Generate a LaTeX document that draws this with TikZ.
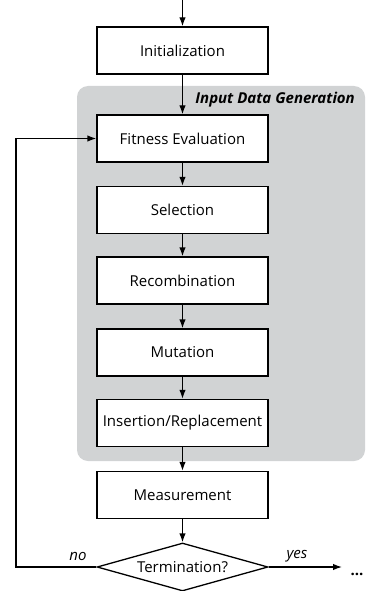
\documentclass[tikz,border=0pt]{standalone}
\usepackage{fontspec}
\setmainfont{Open Sans}
\usetikzlibrary{shapes.geometric,arrows.meta}
\definecolor{regiongray}{RGB}{209,211,212}
\begin{document}
\begin{tikzpicture}[x=1pt,y=-1pt,>={Latex[length=9pt,width=6.5pt]},font=\fontsize{15}{18}\selectfont]
	\tikzstyle{stepbox}=[rectangle,draw=black,line width=1.3pt,fill=white,minimum width=171pt,minimum height=47pt,inner sep=0pt]
	\tikzstyle{decision}=[diamond,draw=black,line width=1.3pt,fill=white,minimum width=171pt,minimum height=48pt,aspect=3.56,inner sep=0pt]
	\tikzstyle{edge}=[draw, line width=1.3pt, ->]
	\tikzstyle{lbl}=[font=\fontsize{15}{18}\selectfont\itshape,inner sep=0pt]
	\useasboundingbox (0,0) rectangle (367,591);
	% shaded group
	\fill[regiongray,rounded corners=11pt] (77,86) rectangle (365,461);
	\node [font=\fontsize{15}{18}\selectfont\bfseries\itshape,anchor=east,inner sep=0pt] (grouplabel) at (355,100) {Input Data Generation};
	% steps
	\coordinate (start) at (182.5,0);
	\node [stepbox] (init) at (182.5,50.5) {Initialization};
	\node [stepbox] (fit) at (182.5,138.5) {Fitness Evaluation};
	\node [stepbox] (sel) at (182.5,210) {Selection};
	\node [stepbox] (rec) at (182.5,280.5) {Recombination};
	\node [stepbox] (mut) at (182.5,352.5) {Mutation};
	\node [stepbox] (ins) at (182.5,423) {Insertion/Replacement};
	\node [stepbox] (meas) at (182.5,495) {Measurement};
	\node [decision] (term) at (182.5,567) {Termination?};
	\coordinate (loop) at (16,567);
	\coordinate (out) at (342,567);
	\node [inner sep=0pt,font=\fontsize{15}{18}\selectfont\bfseries] (dots) at (357,574) {...};
	% connectors
	\path[edge] (start) -- (init);
	\path[edge] (init) -- (fit);
	\path[edge] (fit) -- (sel);
	\path[edge] (sel) -- (rec);
	\path[edge] (rec) -- (mut);
	\path[edge] (mut) -- (ins);
	\path[edge] (ins) -- (meas);
	\path[edge] (meas) -- (term);
	\path[edge] (term.west) -- (loop) |- (fit.west);
	\path[edge] (term.east) -- (out);
	\node [lbl] (no) at (78,556) {no};
	\node [lbl] (yes) at (297,556) {yes};
\end{tikzpicture}
\end{document}
